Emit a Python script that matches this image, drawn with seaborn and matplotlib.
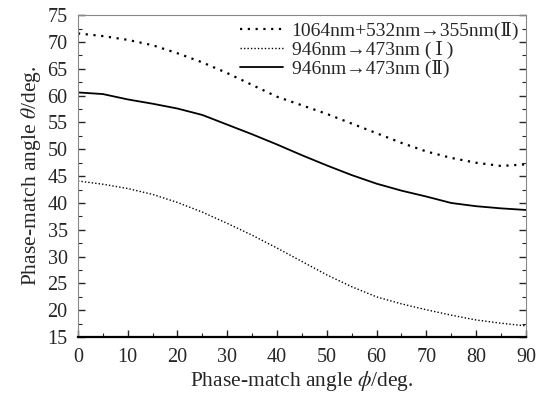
import numpy as np
import matplotlib
matplotlib.use("Agg")
import matplotlib.pyplot as plt
import seaborn as sns
import pandas as pd
from matplotlib.ticker import MultipleLocator

sns.set_style("ticks")
plt.rcParams['font.family'] = ['Liberation Serif', 'DejaVu Serif']
plt.rcParams['mathtext.fontset'] = 'stix'

phi = [0, 5, 10, 15, 20, 25, 30, 35, 40, 45, 50, 55, 60, 65, 70, 75, 80, 85, 90]
theta_355 = [71.6, 71.1, 70.4, 69.4, 67.9, 66.2, 64.2, 62.0, 59.8, 58.2, 56.6, 54.8, 53.0, 51.2, 49.6, 48.4, 47.5, 46.9, 47.2]
theta_473_I = [44.1, 43.5, 42.7, 41.6, 40.1, 38.3, 36.2, 34.0, 31.6, 29.1, 26.6, 24.4, 22.5, 21.2, 20.1, 19.1, 18.2, 17.6, 17.1]
theta_473_II = [60.6, 60.3, 59.3, 58.5, 57.6, 56.4, 54.6, 52.8, 50.9, 48.9, 47.0, 45.2, 43.6, 42.3, 41.2, 40.0, 39.4, 39.0, 38.7]
labels = ["1064nm+532nm\u2192355nm(\u2161)", "946nm\u2192473nm (\u2009\u2160\u2009)", "946nm\u2192473nm (\u2161)"]

fig, ax = plt.subplots(figsize=(5.45, 3.99), dpi=100)
fig.subplots_adjust(left=0.143, right=0.965, top=0.962, bottom=0.155)

sns.lineplot(x=phi, y=theta_355, ax=ax, color='black', lw=1.6, linestyle=(0, (1, 2.5)), label=labels[0])
sns.lineplot(x=phi, y=theta_473_I, ax=ax, color='black', lw=1.0, linestyle=(0, (1, 1.5)), label=labels[1])
sns.lineplot(x=phi, y=theta_473_II, ax=ax, color='black', lw=1.3, linestyle='-', label=labels[2])

ax.set_xlim(0, 90)
ax.set_ylim(15, 75)
ax.xaxis.set_major_locator(MultipleLocator(10))
ax.xaxis.set_minor_locator(MultipleLocator(5))
ax.yaxis.set_major_locator(MultipleLocator(5))
ax.yaxis.set_minor_locator(MultipleLocator(2.5))
ax.tick_params(which='both', direction='in', top=False, right=True, labelsize=14.5)
ax.tick_params(which='major', length=5, width=1)
ax.tick_params(which='minor', length=3, width=0.8)
ax.tick_params(axis='y', which='both', labelright=False, pad=7.5)
ax.tick_params(axis='x', which='both', pad=7.5)
for s in ['top', 'left', 'right']:
    ax.spines[s].set_color('#888888')
    ax.spines[s].set_linewidth(0.8)
ax.spines['bottom'].set_linewidth(1.6)
ax.spines['bottom'].set_color('black')

ax.set_xlabel(r"Phase-match angle $\phi$/deg.", fontsize=15.5, labelpad=2)
ax.set_ylabel(r"Phase-match angle $\theta$/deg.", fontsize=15.5, labelpad=3)

leg = ax.legend(loc='upper right', bbox_to_anchor=(1.0, 1.0), frameon=False, fontsize=14,
                handlelength=2.2, labelspacing=0.05, borderaxespad=0.0, borderpad=0.35,
                handletextpad=0.45)

fig.savefig("out.png", dpi=100)
